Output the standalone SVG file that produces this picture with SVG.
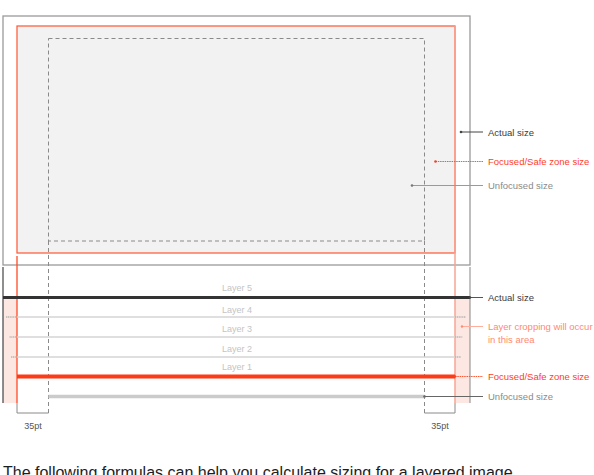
<svg xmlns="http://www.w3.org/2000/svg" width="594" height="475" viewBox="0 0 594 475">
<style>
text{font-family:"Liberation Sans",Arial,sans-serif;}
.lbl{font-size:9.5px;}
.layer{font-size:9px;fill:#c4c4c4;text-anchor:middle;}
.dark{fill:#3a3a3a;}
.orange{fill:#ff3d1f;}
.grey{fill:#8a8a8a;}
.salmon{fill:#ff8a70;}
.dash{stroke:#8a8a8a;stroke-width:1;stroke-dasharray:4 3;fill:none;}
.lead{stroke-width:1;fill:none;}
.pt{font-size:9px;fill:#555;text-anchor:middle;}
.lay{stroke:#d4d4d4;stroke-width:1.5;}
.crop{stroke:#b5b5b5;stroke-width:1.5;stroke-dasharray:1.2 0.6;}
</style>
<rect width="594" height="475" fill="#fff"/>

<g id="top-view">
  <rect id="actual-frame" x="3" y="16" width="467" height="249" fill="none" stroke="#9a9a9a" stroke-width="1.3"/>
  <rect id="focused-frame" x="17" y="26" width="438" height="227" fill="#f2f2f2" stroke="#ff5533" stroke-width="1.2"/>
  <rect id="unfocused-frame" x="48.5" y="38.5" width="376" height="202.5" class="dash"/>
</g>

<g id="layer-view">
  <rect id="crop-left" x="3" y="298" width="14" height="105" fill="#fde7e2"/>
  <rect id="crop-right" x="455" y="298" width="15" height="105" fill="#fde7e2"/>
  <line x1="3" y1="267" x2="3" y2="403" stroke="#444" stroke-width="1.2"/>
  <line x1="470" y1="267" x2="470" y2="403" stroke="#9a9a9a" stroke-width="1.2"/>
  <line x1="17" y1="256" x2="17" y2="403" stroke="#ff4a26" stroke-width="1.3"/>
  <line x1="455" y1="26" x2="455" y2="403" stroke="#f9a594" stroke-width="1.5"/>
  <line x1="48.5" y1="241" x2="48.5" y2="413" class="dash"/>
  <line x1="424.5" y1="241" x2="424.5" y2="413" class="dash"/>

  <g id="layer4">
    <line class="lay" x1="17" y1="317" x2="455" y2="317"/>
    <line class="crop" x1="6" y1="317" x2="17" y2="317"/>
    <line class="crop" x1="455" y1="317" x2="466" y2="317"/>
  </g>
  <g id="layer3">
    <line class="lay" x1="17" y1="337" x2="455" y2="337"/>
    <line class="crop" x1="9.5" y1="337" x2="17" y2="337"/>
    <line class="crop" x1="455" y1="337" x2="462.5" y2="337"/>
  </g>
  <g id="layer2">
    <line class="lay" x1="17" y1="357" x2="455" y2="357"/>
    <line class="crop" x1="11" y1="357" x2="17" y2="357"/>
    <line class="crop" x1="455" y1="357" x2="461" y2="357"/>
  </g>
  <line id="actual-bar" x1="3" y1="297.5" x2="470" y2="297.5" stroke="#333" stroke-width="3"/>
  <line id="focused-bar" x1="17" y1="376.5" x2="455" y2="376.5" stroke="#ff3a14" stroke-width="4"/>
  <line id="unfocused-bar" x1="48.5" y1="396.5" x2="424.5" y2="396.5" stroke="#cbcbcb" stroke-width="3.5"/>

  <text class="layer" x="237" y="291">Layer 5</text>
  <text class="layer" x="237" y="312.5">Layer 4</text>
  <text class="layer" x="237" y="332">Layer 3</text>
  <text class="layer" x="237" y="352">Layer 2</text>
  <text class="layer" x="237" y="370">Layer 1</text>

  <g id="brackets" stroke="#8a8a8a" stroke-width="1" fill="none">
    <polyline points="17,403 17,413 48.5,413"/>
    <polyline points="424.5,413 455,413 455,403"/>
  </g>
  <text class="pt" x="33" y="429">35pt</text>
  <text class="pt" x="440" y="429">35pt</text>
</g>

<g id="connectors">
  <line class="lead" x1="461" y1="132" x2="483" y2="132" stroke="#444"/>
  <circle cx="461" cy="132" r="1.3" fill="#444"/>
  <line class="lead" x1="435.5" y1="161.5" x2="483" y2="161.5" stroke="#ff5533" stroke-dasharray="1.5 0.8"/>
  <circle cx="435.5" cy="161.5" r="1.3" fill="#ff3d1f"/>
  <line class="lead" x1="412" y1="185.5" x2="483" y2="185.5" stroke="#9a9a9a"/>
  <circle cx="412" cy="185.5" r="1.3" fill="#777"/>

  <line class="lead" x1="470" y1="297.5" x2="483" y2="297.5" stroke="#555"/>
  <circle cx="470" cy="297.5" r="1.3" fill="#444"/>
  <line class="lead" x1="462" y1="326.5" x2="483" y2="326.5" stroke="#ffad9c"/>
  <circle cx="462" cy="326.5" r="1.2" fill="#ff8a70"/>
  <line class="lead" x1="455" y1="376.5" x2="483" y2="376.5" stroke="#ff5533" stroke-dasharray="1.5 0.8"/>
  <circle cx="455" cy="376.5" r="1.3" fill="#ff3d1f"/>
  <line class="lead" x1="424.5" y1="396.5" x2="483" y2="396.5" stroke="#666"/>
  <circle cx="424.5" cy="396.5" r="1.3" fill="#666"/>
</g>

<g id="labels">
  <text class="lbl dark" x="488" y="135.5">Actual size</text>
  <text class="lbl orange" x="488" y="165">Focused/Safe zone size</text>
  <text class="lbl grey" x="488" y="189">Unfocused size</text>
  <text class="lbl dark" x="488" y="301">Actual size</text>
  <text class="lbl salmon" x="488" y="330">Layer cropping will occur</text>
  <text class="lbl salmon" x="488" y="342.5">in this area</text>
  <text class="lbl orange" x="488" y="380">Focused/Safe zone size</text>
  <text class="lbl grey" x="488" y="400">Unfocused size</text>
</g>

<text x="3" y="478" font-size="16" fill="#1d1d1f">The following formulas can help you calculate sizing for a layered image.</text>
</svg>
